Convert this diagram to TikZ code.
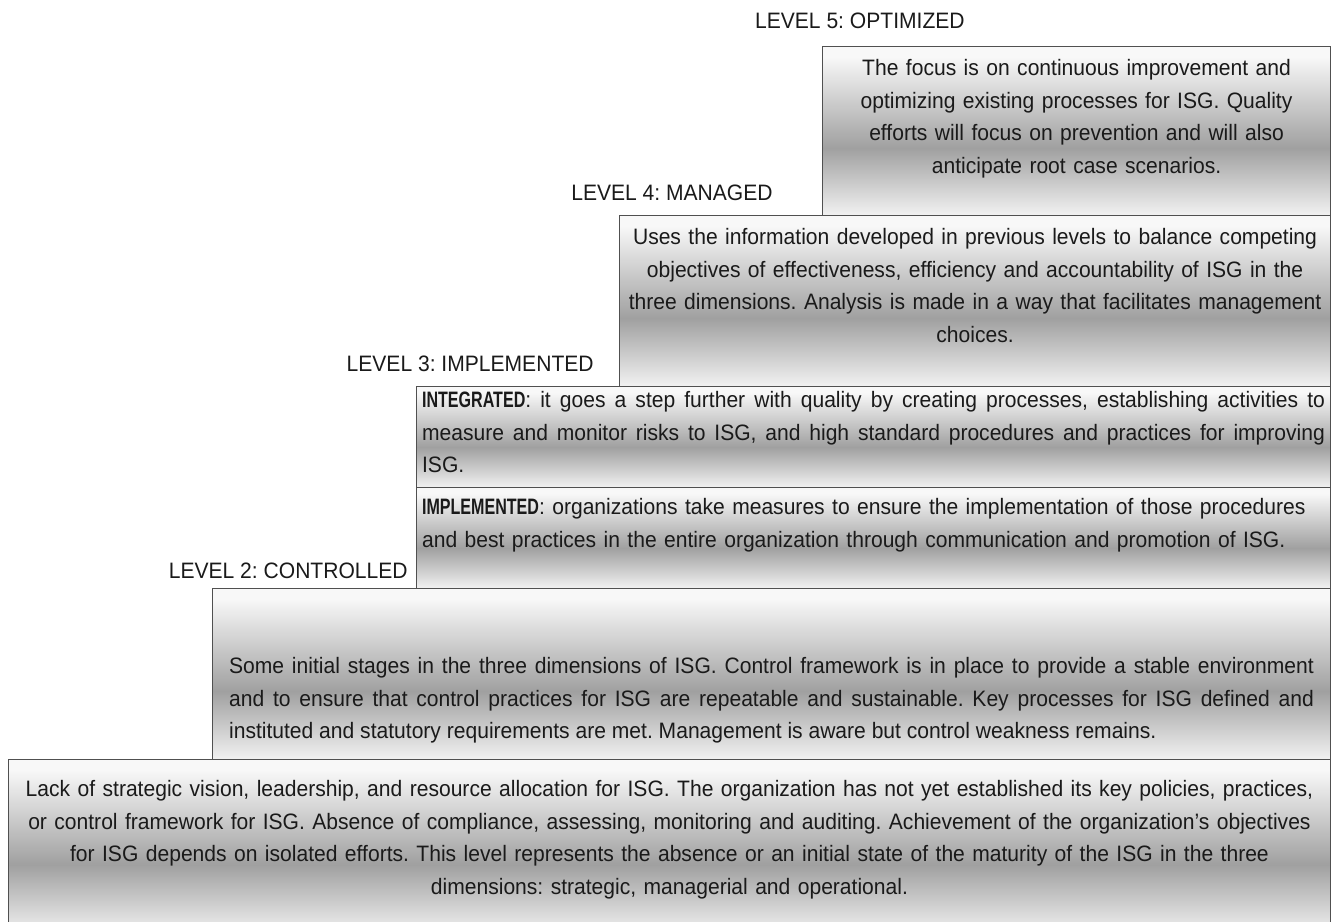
\documentclass[tikz,border=0pt]{standalone}
\usepackage{fontspec}
\setmainfont{Liberation Sans}[FakeStretch=0.944, BoldFeatures={FakeStretch=0.72}]
\usetikzlibrary{positioning}

\definecolor{boxline}{HTML}{505050}
\definecolor{shadetop}{HTML}{F8F8F8}
\definecolor{shadedark}{HTML}{A0A0A0}
\definecolor{shadebot}{HTML}{F2F2F2}
\definecolor{inktext}{HTML}{1A1A1A}

% light at the top, dark a bit below the middle, light again at the bottom
\pgfdeclareverticalshading{levelfill}{100bp}{color(0bp)=(shadebot); color(25bp)=(shadebot);
  color(45bp)=(shadedark); color(72bp)=(shadetop); color(100bp)=(shadetop)}

\begin{document}
\frenchspacing\hyphenpenalty=10000
\begin{tikzpicture}[x=0.02cm,y=-0.02cm]
            \tikzset{levelbox/.style = {draw=boxline, line width=0.7pt, shading=levelfill, anchor=north west, inner sep=0pt}}
            \tikzset{leveltext/.style = {font=\fontsize{12.7}{18.5}\selectfont, text=inktext, inner sep=0pt}}
            \tikzset{levellabel/.style = {font=\fontsize{12.7}{15}\selectfont, text=inktext, inner sep=0pt, anchor=base east}}
            \path[use as bounding box, fill=white] (0,0) rectangle (1333,922);
            % boxes, top step first
            \node[levelbox, minimum width=10.16cm, minimum height=3.38cm] (b5) at (822,46) {};
            \node[levelbox, minimum width=14.22cm, minimum height=3.42cm] (b4) at (619,215) {};
            \node[levelbox, minimum width=18.28cm, minimum height=2.02cm] (b3a) at (416,386) {};
            \node[levelbox, minimum width=18.28cm, minimum height=2.02cm] (b3b) at (416,487) {};
            \node[levelbox, minimum width=22.36cm, minimum height=3.42cm] (b2) at (212,588) {};
            \node[levelbox, minimum width=26.44cm, minimum height=3.50cm] (b1) at (8,759) {};
            % level names
            \node[levellabel] (l5) at (965,29) {LEVEL 5: OPTIMIZED};
            \node[levellabel] (l4) at (773,201) {LEVEL 4: MANAGED};
            \node[levellabel] (l3) at (594,372) {LEVEL 3: IMPLEMENTED};
            \node[levellabel] (l2) at (408,578) {LEVEL 2: CONTROLLED};
            % box texts
            \node[leveltext, align=center, text width=10cm, below=0.26cm of b5.north] (t5) {The focus is on continuous improvement and\\
              optimizing existing processes for ISG. Quality\\
              efforts will focus on prevention and will also\\
              anticipate root case scenarios.};
            \node[leveltext, align=center, text width=14cm, below=0.26cm of b4.north] (t4) {Uses the information developed in previous levels to balance competing\\
              objectives of effectiveness, efficiency and accountability of ISG in the\\
              three dimensions. Analysis is made in a way that facilitates management\\
              choices.};
            \node[leveltext, align=justify, text width=18.06cm, below=0.1cm of b3a.north] (t3a) {\textbf{INTEGRATED}: it goes a step further with quality by creating processes, establishing activities to\linebreak
              measure and monitor risks to ISG, and high standard procedures and practices for improving\linebreak
              ISG.};
            \node[leveltext, align=left, text width=18.06cm, below=0.22cm of b3b.north] (t3b) {\textbf{IMPLEMENTED}: organizations take measures to ensure the implementation of those procedures\\
              \makebox[\linewidth][s]{and best practices in the entire organization through communication and promotion of ISG.}};
            \node[leveltext, align=justify, text width=21.7cm, below=1.38cm of b2.north] (t2) {Some initial stages in the three dimensions of ISG. Control framework is in place to provide a stable environment\linebreak
              and to ensure that control practices for ISG are repeatable and sustainable. Key processes for ISG defined and\linebreak
              instituted and statutory requirements are met. Management is aware but control weakness remains.};
            \node[leveltext, align=center, text width=26.2cm, below=0.42cm of b1.north] (t1) {Lack of strategic vision, leadership, and resource allocation for ISG. The organization has not yet established its key policies, practices,\\
              or control framework for ISG. Absence of compliance, assessing, monitoring and auditing. Achievement of the organization’s objectives\\
              for ISG depends on isolated efforts. This level represents the absence or an initial state of the maturity of the ISG in the three\\
              dimensions: strategic, managerial and operational.};
        \end{tikzpicture}
\end{document}
